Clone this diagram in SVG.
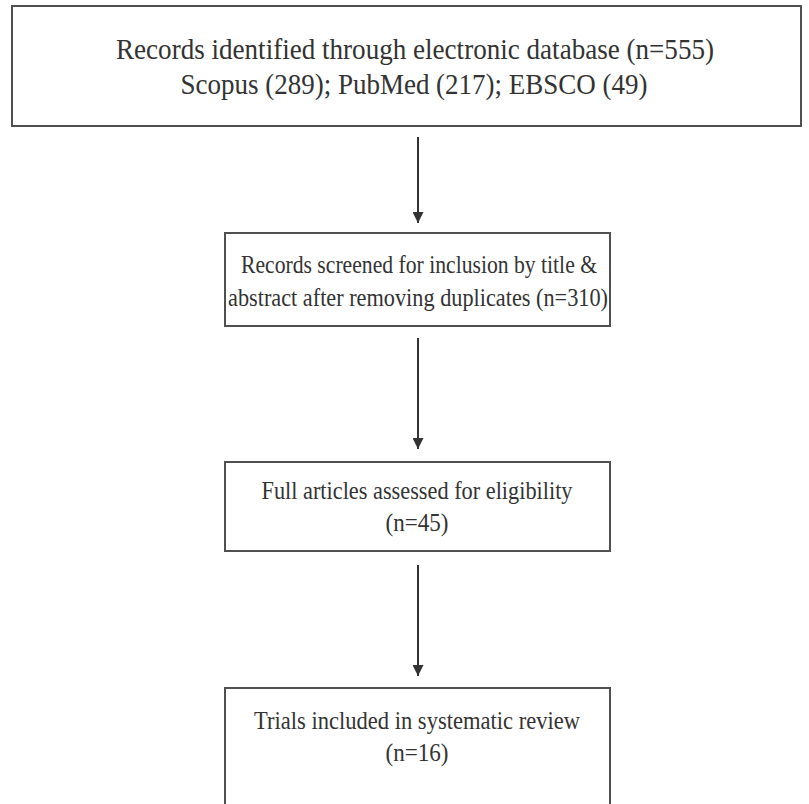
<svg xmlns="http://www.w3.org/2000/svg" width="809" height="804" viewBox="0 0 809 804">
<defs>
<style>
.box{fill:#fff;stroke:#505050;stroke-width:2}
text{font-family:'Liberation Serif','Times New Roman',Times,serif;fill:#333;text-anchor:middle}
.t1{font-size:30px}
.t2{font-size:25.5px}
.conn{stroke:#333;stroke-width:2;fill:none}
</style>
<marker id="ah" viewBox="0 0 10 10" refX="10" refY="5" markerWidth="11" markerHeight="11" markerUnits="userSpaceOnUse" orient="auto">
<path d="M0,0 L10,5 L0,10 z" fill="#333"/>
</marker>
</defs>
<rect width="809" height="804" fill="#fff"/>
<g id="node1">
<rect class="box" x="12" y="6" width="789" height="120"/>
<text class="t1" x="415" y="59" textLength="598" lengthAdjust="spacingAndGlyphs">Records identified through electronic database (n=555)</text>
<text class="t1" x="414" y="94" textLength="467" lengthAdjust="spacingAndGlyphs">Scopus (289); PubMed (217); EBSCO (49)</text>
</g>
<g id="node2">
<rect class="box" x="225" y="233" width="385" height="93"/>
<text class="t2" x="419" y="273" textLength="356" lengthAdjust="spacingAndGlyphs">Records screened for inclusion by title &amp;</text>
<text class="t2" x="418" y="306" textLength="380" lengthAdjust="spacingAndGlyphs">abstract after removing duplicates (n=310)</text>
</g>
<g id="node3">
<rect class="box" x="225" y="462" width="385" height="89"/>
<text class="t2" x="417" y="499" textLength="311" lengthAdjust="spacingAndGlyphs">Full articles assessed for eligibility</text>
<text class="t2" x="417" y="531" textLength="63" lengthAdjust="spacingAndGlyphs">(n=45)</text>
</g>
<g id="node4">
<rect class="box" x="225" y="688" width="385" height="130"/>
<text class="t2" x="417" y="729" textLength="326" lengthAdjust="spacingAndGlyphs">Trials included in systematic review</text>
<text class="t2" x="417" y="761" textLength="63" lengthAdjust="spacingAndGlyphs">(n=16)</text>
</g>
<g id="connectors">
<line class="conn" x1="418" y1="137" x2="418" y2="223" marker-end="url(#ah)"/>
<line class="conn" x1="418" y1="338" x2="418" y2="449" marker-end="url(#ah)"/>
<line class="conn" x1="418" y1="565" x2="418" y2="676" marker-end="url(#ah)"/>
</g>
</svg>
